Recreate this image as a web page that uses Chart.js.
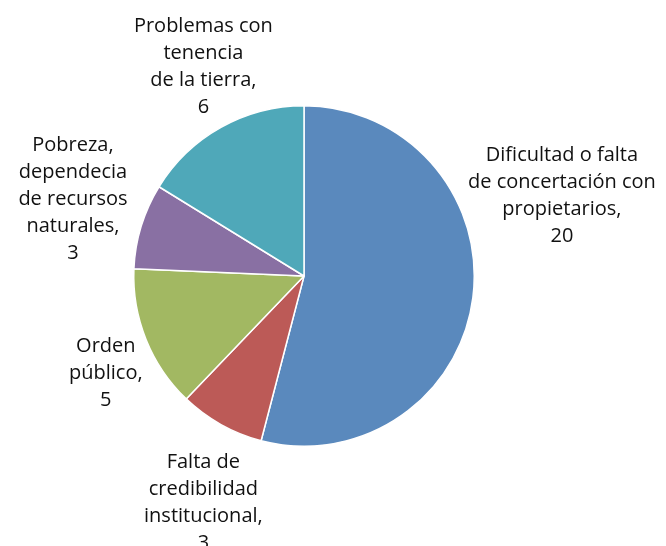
<!DOCTYPE html>
<html>
<head>
<meta charset="utf-8">
<script src="https://cdn.jsdelivr.net/npm/chart.js@4"></script>
<style>
html,body{margin:0;padding:0;background:#fff;}
#wrap{width:666px;height:546px;position:relative;}
</style>
</head>
<body>
<div id="wrap"><canvas id="c" width="666" height="546"></canvas></div>
<script>
const categories = [
  ["Dificultad o falta", "de concertación con", "propietarios,"],
  ["Falta de", "credibilidad", "institucional,"],
  ["Orden", "público,"],
  ["Pobreza,", "dependecia", "de recursos", "naturales,"],
  ["Problemas con", "tenencia", "de la tierra,"]
];
const values = [20, 3, 5, 3, 6];
const colors = ["#5A89BD", "#BC5A57", "#A2B862", "#8970A3", "#4FA8B9"];
// label block centre, relative to pie centre, in units of radius
const labelOffsets = [[1.515, -0.474], [-0.591, 1.33], [-1.164, 0.573], [-1.357, -0.450], [-0.591, -1.231]];

const labelPlugin = {
  id: 'outsideLabels',
  afterDraw(chart) {
    const ctx = chart.ctx;
    const meta = chart.getDatasetMeta(0);
    const arc0 = meta.data[0];
    const cx = arc0.x, cy = arc0.y, r = arc0.outerRadius;
    const lh = 27;
    ctx.save();
    ctx.font = '20px "Open Sans"';
    ctx.fillStyle = '#111111';
    ctx.textAlign = 'center';
    ctx.textBaseline = 'middle';
    categories.forEach((lines, i) => {
      const all = lines.concat([String(values[i])]);
      const bx = cx + labelOffsets[i][0] * r;
      const by = cy + labelOffsets[i][1] * r;
      const top = by - (all.length - 1) * lh / 2;
      all.forEach((t, j) => ctx.fillText(t, bx, top + j * lh));
    });
    ctx.restore();
  }
};

new Chart(document.getElementById('c'), {
  type: 'pie',
  data: {
    labels: categories.map(l => l.join(' ')),
    datasets: [{
      data: values,
      backgroundColor: colors,
      borderColor: '#ffffff',
      borderWidth: 1.5
    }]
  },
  options: {
    responsive: false,
    animation: false,
    layout: { padding: { left: 133, right: 191, top: 105, bottom: 99 } },
    plugins: { legend: { display: false }, tooltip: { enabled: false } }
  },
  plugins: [labelPlugin]
});
</script>
</body>
</html>
